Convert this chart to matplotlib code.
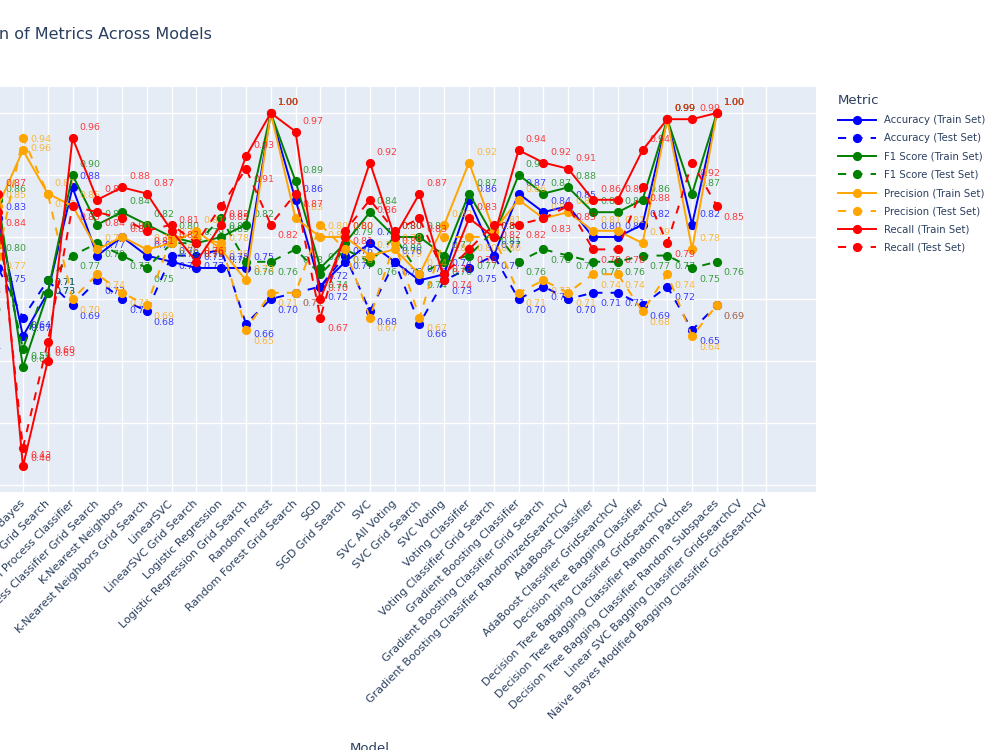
import numpy as np
import matplotlib
matplotlib.use("Agg")
import matplotlib.pyplot as plt

nan = np.nan

models = [
    "Extra Trees", "Decision Tree", "Pruned Decision Tree Classifier",
    "Naive Bayes", "Naive Bayes Grid Search",
    "Gaussian Process Classifier", "Gaussian Process Classifier Grid Search",
    "K-Nearest Neighbors", "K-Nearest Neighbors Grid Search",
    "LinearSVC", "LinearSVC Grid Search",
    "Logistic Regression", "Logistic Regression Grid Search",
    "Random Forest", "Random Forest Grid Search",
    "SGD", "SGD Grid Search", "SVC", "SVC All Voting", "SVC Grid Search", "SVC Voting",
    "Voting Classifier", "Voting Classifier Grid Search",
    "Gradient Boosting Classifier", "Gradient Boosting Classifier Grid Search",
    "Gradient Boosting Classifier RandomizedSearchCV",
    "AdaBoost Classifier", "AdaBoost Classifier GridSearchCV",
    "Decision Tree Bagging Classifier", "Decision Tree Bagging Classifier GridSearchCV",
    "Decision Tree Bagging Classifier Random Patches",
    "Decision Tree Bagging Classifier Random Subspaces",
    "Linear SVC Bagging Classifier GridSearchCV",
    "Naive Bayes Modified Bagging Classifier GridSearchCV",
]

acc_train = [0.84, 1.00, 0.83, 0.64, 0.71, 0.88, 0.77, 0.80, 0.77, 0.76, 0.75, 0.75, 0.75,
             1.00, 0.86, 0.72, 0.76, 0.79, 0.76, 0.73, 0.74, 0.86, 0.77, 0.87, 0.84, 0.85,
             0.80, 0.80, 0.82, 0.99, 0.82, 1.00, nan, nan]
acc_test = [0.74, 0.64, 0.75, 0.67, 0.73, 0.69, 0.73, 0.70, 0.68, 0.77, 0.77, 0.78, 0.66,
            0.70, 0.71, 0.72, 0.77, 0.68, 0.76, 0.66, 0.73, 0.75, 0.77, 0.70, 0.72, 0.70,
            0.71, 0.71, 0.69, 0.72, 0.65, 0.69, nan, nan]
f1_train = [0.85, 1.00, 0.86, 0.59, 0.71, 0.90, 0.82, 0.84, 0.82, 0.80, 0.79, 0.80, 0.82,
            1.00, 0.89, 0.75, 0.79, 0.84, 0.80, 0.80, 0.77, 0.87, 0.80, 0.90, 0.87, 0.88,
            0.84, 0.84, 0.86, 0.99, 0.87, 1.00, nan, nan]
f1_test = [0.75, 0.70, 0.80, 0.62, 0.73, 0.77, 0.79, 0.77, 0.75, 0.79, 0.79, 0.83, 0.76,
           0.76, 0.78, 0.74, 0.78, 0.76, 0.80, 0.74, 0.76, 0.77, 0.81, 0.76, 0.78, 0.77,
           0.76, 0.76, 0.77, 0.77, 0.75, 0.76, nan, nan]
prec_train = [0.86, 1.00, 0.85, 0.94, 0.87, 0.85, 0.78, 0.80, 0.78, 0.79, 0.81, 0.78, 0.73,
              1.00, 0.83, 0.80, 0.80, 0.77, 0.78, 0.74, 0.82, 0.92, 0.81, 0.86, 0.83, 0.84,
              0.81, 0.81, 0.79, 0.99, 0.78, 1.00, nan, nan]
prec_test = [0.73, 0.68, 0.77, 0.96, 0.87, 0.70, 0.74, 0.71, 0.69, 0.80, 0.80, 0.79, 0.65,
             0.71, 0.71, 0.82, 0.78, 0.67, 0.79, 0.67, 0.80, 0.80, 0.80, 0.71, 0.73, 0.71,
             0.74, 0.74, 0.68, 0.74, 0.64, 0.69, nan, nan]
rec_train = [0.88, 1.00, 0.87, 0.43, 0.60, 0.96, 0.86, 0.88, 0.87, 0.81, 0.76, 0.82, 0.93,
             1.00, 0.97, 0.70, 0.80, 0.92, 0.80, 0.87, 0.73, 0.83, 0.80, 0.94, 0.92, 0.91,
             0.86, 0.86, 0.94, 0.99, 0.99, 1.00, nan, nan]
rec_test = [0.80, 0.73, 0.84, 0.46, 0.63, 0.85, 0.84, 0.83, 0.81, 0.82, 0.79, 0.85, 0.91,
            0.82, 0.87, 0.67, 0.81, 0.86, 0.81, 0.83, 0.74, 0.78, 0.82, 0.82, 0.83, 0.85,
            0.78, 0.78, 0.88, 0.79, 0.92, 0.85, nan, nan]

series = [
    ("Accuracy (Train Set)", acc_train, "blue", False),
    ("Accuracy (Test Set)", acc_test, "blue", True),
    ("F1 Score (Train Set)", f1_train, "green", False),
    ("F1 Score (Test Set)", f1_test, "green", True),
    ("Precision (Train Set)", prec_train, "orange", False),
    ("Precision (Test Set)", prec_test, "orange", True),
    ("Recall (Train Set)", rec_train, "red", False),
    ("Recall (Test Set)", rec_test, "red", True),
]

W, H = 1000, 750
fig = plt.figure(figsize=(W / 100, H / 100), dpi=100)
fig.patch.set_facecolor("white")

# plot area runs off the left edge of the canvas
left, right, top, bottom = -63.8, 816, 87, 492
ax = fig.add_axes([left / W, 1 - bottom / H, (right - left) / W, (bottom - top) / H])
ax.set_facecolor("#E5ECF6")
for s in ax.spines.values():
    s.set_visible(False)

x = np.arange(len(models))
for i, (name, vals, col, dashed) in enumerate(series):
    vals = np.array(vals, dtype=float)
    ln, = ax.plot(x, vals, color=col, lw=1.4, marker="o", ms=5.6, label=name,
                  zorder=3 + i)
    if dashed:
        ln.set_dashes((4.2, 4.2))
    dy = -8.0 if dashed else 7.6
    for xi, v in zip(x, vals):
        if np.isnan(v):
            continue
        ax.annotate(f"{v:.2f}", (xi, v), xytext=(5, dy), textcoords="offset points",
                    ha="left", va="center", fontsize=6.8, color=col, alpha=0.75,
                    zorder=3 + i, annotation_clip=False, clip_on=True)

ax.set_xlim(-0.5, 35.0)
ax.set_ylim(0.3887, 1.0419)
ax.set_xticks(x)
ax.set_xticklabels(models, rotation=45, ha="right", va="center",
                   rotation_mode="anchor", fontsize=8, color="#2a3f5f")
ax.set_yticks([0.4, 0.5, 0.6, 0.7, 0.8, 0.9, 1.0])
ax.tick_params(axis="both", length=0, labelcolor="#2a3f5f")
ax.tick_params(axis="x", pad=7)
ax.grid(True, color="white", lw=1.0)
ax.set_axisbelow(True)

fig.text(212 / W, 1 - 34 / H, "Comparison of Metrics Across Models", ha="right",
         va="center", fontsize=11.5, color="#2a3f5f")
fig.text(370 / W, 1 - 742 / H, "Model", ha="center", va="top", fontsize=9.5,
         color="#2a3f5f")

leg = fig.legend(loc="upper left", bbox_to_anchor=(838 / W, 1 - 94 / H), frameon=False,
                 title="Metric", alignment="left", fontsize=7.3, title_fontsize=9.5,
                 handlelength=3.75, handletextpad=0.8, labelspacing=0.81,
                 borderpad=0, borderaxespad=0)
for t in leg.get_texts():
    t.set_color("#2a3f5f")
leg.get_title().set_color("#2a3f5f")

fig.savefig("out.png", dpi=100)
